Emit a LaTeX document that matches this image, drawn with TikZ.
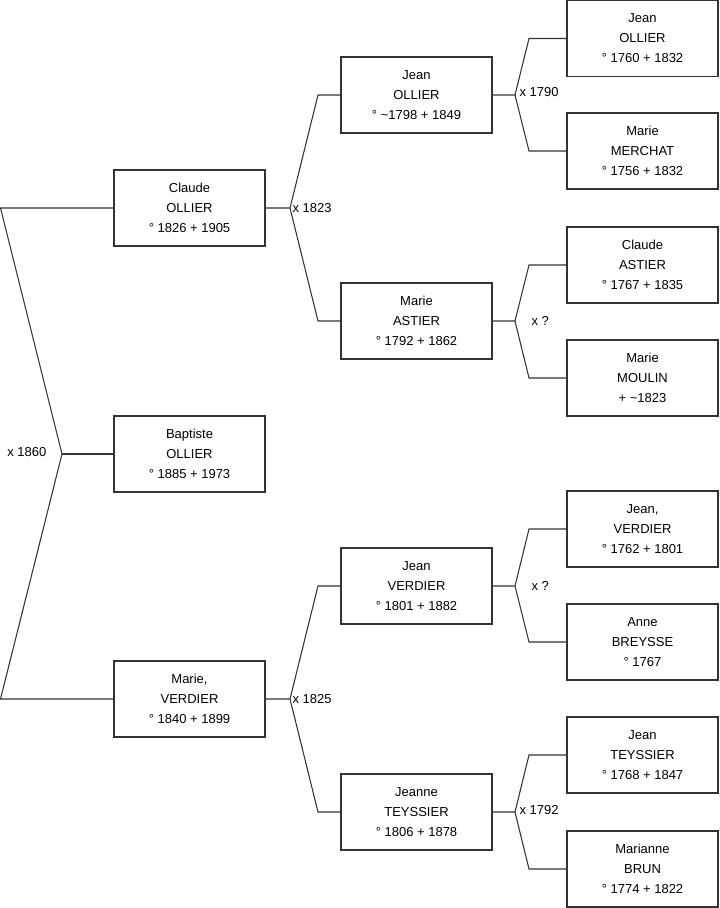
\documentclass[tikz,border=0pt]{standalone}
\usepackage{fontspec}
\setmainfont{Liberation Sans}
\begin{document}
\begin{tikzpicture}[x=0.75pt,y=-0.75pt,
  person/.style={draw=black!80,line width=0.8pt,rectangle,minimum width=113.25pt,minimum height=57pt,inner sep=0pt,align=center,font=\fontsize{9.75}{15}\selectfont},
  link/.style={draw=black!80,line width=0.8pt},
  marr/.style={font=\fontsize{9.75}{11}\selectfont,inner sep=1pt}]
\useasboundingbox (0,0) rectangle (719,908);
% column 1
\node[person] (claudeO) at (189.5,208) {Claude\\OLLIER\\° 1826 + 1905};
\node[person] (baptiste) at (189.5,454) {Baptiste\\OLLIER\\° 1885 + 1973};
\node[person] (marieV) at (189.5,699) {Marie,\\VERDIER\\° 1840 + 1899};
% column 2
\node[person] (jeanO) at (416.5,95) {Jean\\OLLIER\\° \textasciitilde1798 + 1849};
\node[person] (marieA) at (416.5,321) {Marie\\ASTIER\\° 1792 + 1862};
\node[person] (jeanV) at (416.5,586) {Jean\\VERDIER\\° 1801 + 1882};
\node[person] (jeanneT) at (416.5,812) {Jeanne\\TEYSSIER\\° 1806 + 1878};
% column 3
\node[person] (jeanO2) at (642.5,38.5) {Jean\\OLLIER\\° 1760 + 1832};
\node[person] (marieM) at (642.5,151) {Marie\\MERCHAT\\° 1756 + 1832};
\node[person] (claudeA) at (642.5,265) {Claude\\ASTIER\\° 1767 + 1835};
\node[person] (marieMo) at (642.5,378) {Marie\\MOULIN\\+ \textasciitilde1823};
\node[person] (jeanV2) at (642.5,529) {Jean,\\VERDIER\\° 1762 + 1801};
\node[person] (anneB) at (642.5,642) {Anne\\BREYSSE\\° 1767};
\node[person] (jeanT) at (642.5,755) {Jean\\TEYSSIER\\° 1768 + 1847};
\node[person] (marianneB) at (642.5,869) {Marianne\\BRUN\\° 1774 + 1822};
% root bracket
\coordinate (rtop) at (0.5,208);
\coordinate (rv) at (62,454);
\coordinate (rbot) at (0.5,699);
\draw[link] (claudeO.west) -- (rtop) -- (rv) -- (rbot) -- (marieV.west);
\draw[link] (rv) -- (baptiste.west);
\node[marr,anchor=east] (m1860) at (48,452) {x 1860};
% level 2
\coordinate (v1) at (290,208);
\coordinate (v1a) at (318,95);
\coordinate (v1b) at (318,321);
\draw[link] (claudeO.east) -- (v1) -- (v1a) -- (jeanO.west);
\draw[link] (v1) -- (v1b) -- (marieA.west);
\node[marr,anchor=west] (m1823) at (291,208) {x 1823};
\coordinate (v2) at (290,699);
\coordinate (v2a) at (318,586);
\coordinate (v2b) at (318,812);
\draw[link] (marieV.east) -- (v2) -- (v2a) -- (jeanV.west);
\draw[link] (v2) -- (v2b) -- (jeanneT.west);
\node[marr,anchor=west] (m1825) at (291,699) {x 1825};
% level 3
\coordinate (v3) at (515,95);
\coordinate (v3a) at (529,38.5);
\coordinate (v3b) at (529,151);
\draw[link] (jeanO.east) -- (v3) -- (v3a) -- (jeanO2.west);
\draw[link] (v3) -- (v3b) -- (marieM.west);
\node[marr,anchor=west] (m1790) at (518,92) {x 1790};
\coordinate (v4) at (515,321);
\coordinate (v4a) at (529,265);
\coordinate (v4b) at (529,378);
\draw[link] (marieA.east) -- (v4) -- (v4a) -- (claudeA.west);
\draw[link] (v4) -- (v4b) -- (marieMo.west);
\node[marr,anchor=west] (mq1) at (530,321) {x ?};
\coordinate (v5) at (515,586);
\coordinate (v5a) at (529,529);
\coordinate (v5b) at (529,642);
\draw[link] (jeanV.east) -- (v5) -- (v5a) -- (jeanV2.west);
\draw[link] (v5) -- (v5b) -- (anneB.west);
\node[marr,anchor=west] (mq2) at (530,586) {x ?};
\coordinate (v6) at (515,812);
\coordinate (v6a) at (529,755);
\coordinate (v6b) at (529,869);
\draw[link] (jeanneT.east) -- (v6) -- (v6a) -- (jeanT.west);
\draw[link] (v6) -- (v6b) -- (marianneB.west);
\node[marr,anchor=west] (m1792) at (518,810) {x 1792};
\end{tikzpicture}
\end{document}
